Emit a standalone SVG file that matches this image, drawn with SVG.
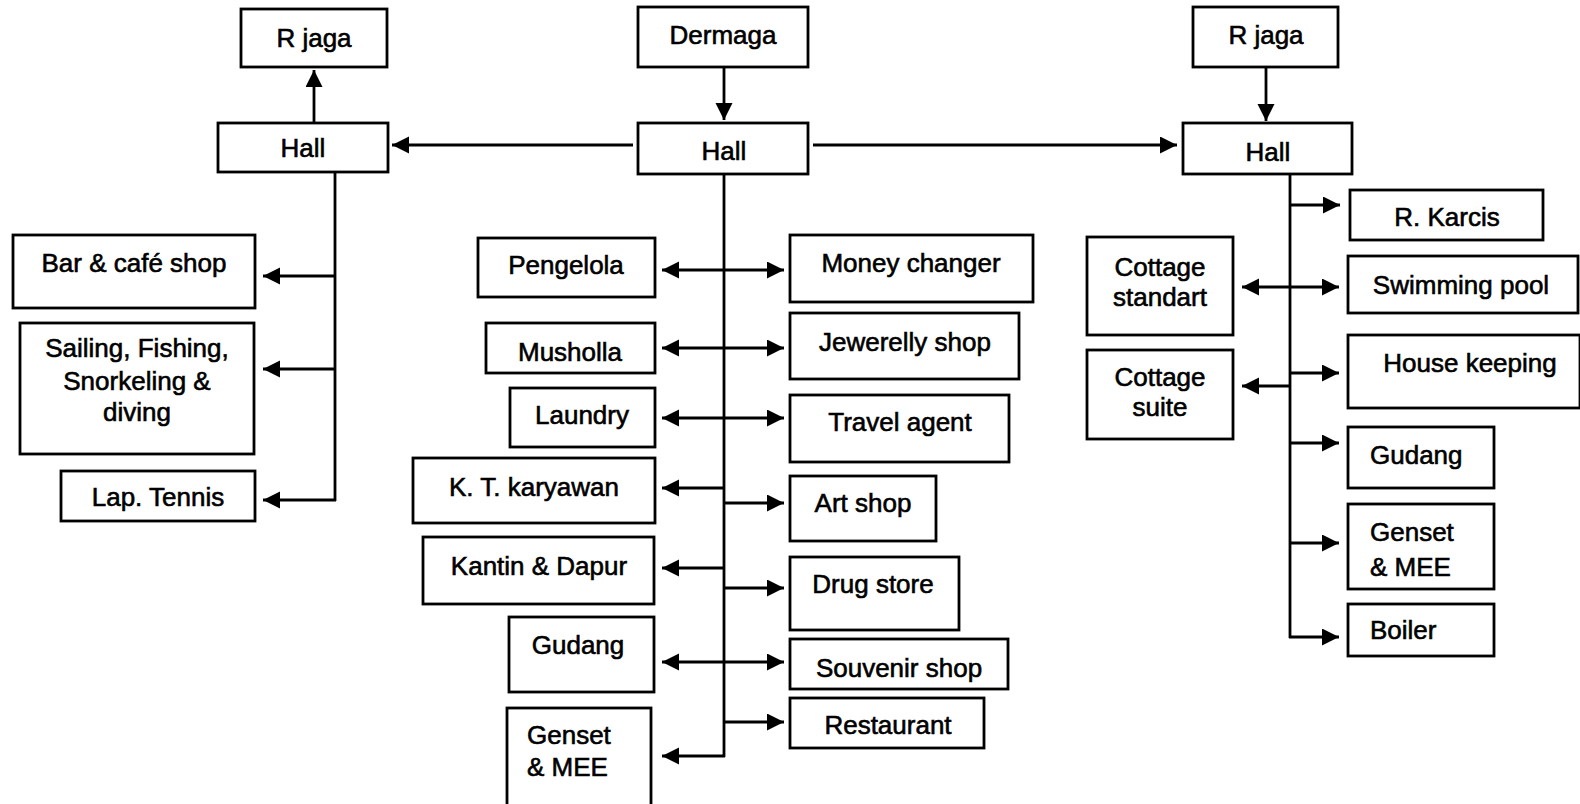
<svg xmlns="http://www.w3.org/2000/svg" width="1580" height="804" viewBox="0 0 1580 804">
<style>
rect{fill:#fff;stroke:#000;stroke-width:2.8}
text{font-family:"Liberation Sans",Arial,sans-serif;font-size:26px;fill:#000;stroke:#000;stroke-width:0.6;text-anchor:middle}
text.l{text-anchor:start}
#connectors line{stroke:#000;stroke-width:2.8;fill:none}
.a{marker-end:url(#ah)}
.d{marker-start:url(#ah);marker-end:url(#ah)}
</style>
<defs>
<marker id="ah" markerUnits="userSpaceOnUse" markerWidth="18" markerHeight="18" refX="17" refY="8.5" orient="auto-start-reverse" viewBox="0 0 18 18">
<path d="M0,0 L17,8.5 L0,17 z" fill="#000"/>
</marker>
</defs>
<rect x="0" y="0" width="1580" height="804" style="stroke:none"/>
<g id="connectors">
<line class="a" x1="314" y1="123" x2="314" y2="70"/>
<line class="a" x1="633" y1="145" x2="392" y2="145"/>
<line class="a" x1="813" y1="145" x2="1177" y2="145"/>
<line class="a" x1="724" y1="67" x2="724" y2="120"/>
<line class="a" x1="1266" y1="67" x2="1266" y2="121"/>
<line x1="335" y1="172" x2="335" y2="501"/>
<line class="a" x1="335" y1="276" x2="263" y2="276"/>
<line class="a" x1="335" y1="369" x2="263" y2="369"/>
<line class="a" x1="336" y1="500" x2="263" y2="500"/>
<line x1="724" y1="174" x2="724" y2="757"/>
<line class="d" x1="662" y1="270" x2="784" y2="270"/>
<line class="d" x1="662" y1="348" x2="784" y2="348"/>
<line class="d" x1="662" y1="418" x2="784" y2="418"/>
<line class="a" x1="724" y1="488" x2="662" y2="488"/>
<line class="a" x1="724" y1="503" x2="784" y2="503"/>
<line class="a" x1="724" y1="568" x2="662" y2="568"/>
<line class="a" x1="724" y1="588" x2="784" y2="588"/>
<line class="d" x1="662" y1="662" x2="784" y2="662"/>
<line class="a" x1="724" y1="722" x2="784" y2="722"/>
<line class="a" x1="725" y1="756" x2="662" y2="756"/>
<line x1="1290" y1="174" x2="1290" y2="638"/>
<line class="a" x1="1290" y1="205" x2="1340" y2="205"/>
<line class="d" x1="1242" y1="287" x2="1339" y2="287"/>
<line class="a" x1="1290" y1="373" x2="1339" y2="373"/>
<line class="a" x1="1290" y1="386" x2="1242" y2="386"/>
<line class="a" x1="1290" y1="443" x2="1339" y2="443"/>
<line class="a" x1="1290" y1="543" x2="1339" y2="543"/>
<line class="a" x1="1289" y1="637" x2="1339" y2="637"/>
</g>
<g id="rjagaL"><rect x="241" y="9" width="146" height="58"/><text x="314" y="47">R jaga</text></g>
<g id="hallL"><rect x="218" y="123" width="170" height="49"/><text x="303" y="157">Hall</text></g>
<g id="bar"><rect x="13" y="235" width="242" height="73"/><text x="134" y="272">Bar &amp; café shop</text></g>
<g id="sailing"><rect x="20" y="323" width="234" height="131"/><text x="137" y="357">Sailing, Fishing,</text><text x="137" y="390">Snorkeling &amp;</text><text x="137" y="421">diving</text></g>
<g id="tennis"><rect x="61" y="471" width="194" height="50"/><text x="158" y="506">Lap. Tennis</text></g>
<g id="dermaga"><rect x="638" y="7" width="170" height="60"/><text x="723" y="44">Dermaga</text></g>
<g id="hallC"><rect x="638" y="123" width="170" height="51"/><text x="724" y="160">Hall</text></g>
<g id="pengelola"><rect x="478" y="238" width="177" height="59"/><text x="566" y="274">Pengelola</text></g>
<g id="money"><rect x="790" y="235" width="243" height="67"/><text x="911" y="272">Money changer</text></g>
<g id="musholla"><rect x="486" y="323" width="169" height="50"/><text x="570" y="361">Musholla</text></g>
<g id="jewerelly"><rect x="790" y="313" width="229" height="66"/><text x="905" y="351">Jewerelly shop</text></g>
<g id="laundry"><rect x="510" y="388" width="145" height="59"/><text x="582" y="424">Laundry</text></g>
<g id="travel"><rect x="790" y="395" width="219" height="67"/><text x="900" y="431">Travel agent</text></g>
<g id="kt"><rect x="413" y="458" width="242" height="65"/><text x="534" y="496">K. T. karyawan</text></g>
<g id="art"><rect x="790" y="476" width="146" height="65"/><text x="863" y="512">Art shop</text></g>
<g id="kantin"><rect x="423" y="537" width="231" height="67"/><text x="539" y="575">Kantin &amp; Dapur</text></g>
<g id="drug"><rect x="790" y="557" width="169" height="73"/><text x="873" y="593">Drug store</text></g>
<g id="gudangC"><rect x="509" y="617" width="145" height="75"/><text x="578" y="654">Gudang</text></g>
<g id="souvenir"><rect x="790" y="639" width="218" height="50"/><text x="899" y="677">Souvenir shop</text></g>
<g id="restaurant"><rect x="790" y="698" width="194" height="50"/><text x="888" y="734">Restaurant</text></g>
<g id="gensetC"><rect x="507" y="708" width="144" height="100"/><text class="l" x="527" y="744">Genset</text><text class="l" x="527" y="776">&amp; MEE</text></g>
<g id="rjagaR"><rect x="1193" y="7" width="145" height="60"/><text x="1266" y="44">R jaga</text></g>
<g id="hallR"><rect x="1183" y="123" width="169" height="51"/><text x="1268" y="161">Hall</text></g>
<g id="karcis"><rect x="1350" y="190" width="193" height="50"/><text x="1447" y="226">R. Karcis</text></g>
<g id="cstd"><rect x="1087" y="237" width="146" height="98"/><text x="1160" y="276">Cottage</text><text x="1160" y="306">standart</text></g>
<g id="swim"><rect x="1348" y="256" width="230" height="57"/><text x="1461" y="294">Swimming pool</text></g>
<g id="csuite"><rect x="1087" y="350" width="146" height="89"/><text x="1160" y="386">Cottage</text><text x="1160" y="416">suite</text></g>
<g id="house"><rect x="1348" y="335" width="232" height="73"/><text x="1470" y="372">House keeping</text></g>
<g id="gudangR"><rect x="1348" y="427" width="146" height="61"/><text class="l" x="1370" y="464">Gudang</text></g>
<g id="gensetR"><rect x="1348" y="504" width="146" height="85"/><text class="l" x="1370" y="541">Genset</text><text class="l" x="1370" y="576">&amp; MEE</text></g>
<g id="boiler"><rect x="1348" y="604" width="146" height="52"/><text class="l" x="1370" y="639">Boiler</text></g>
</svg>
